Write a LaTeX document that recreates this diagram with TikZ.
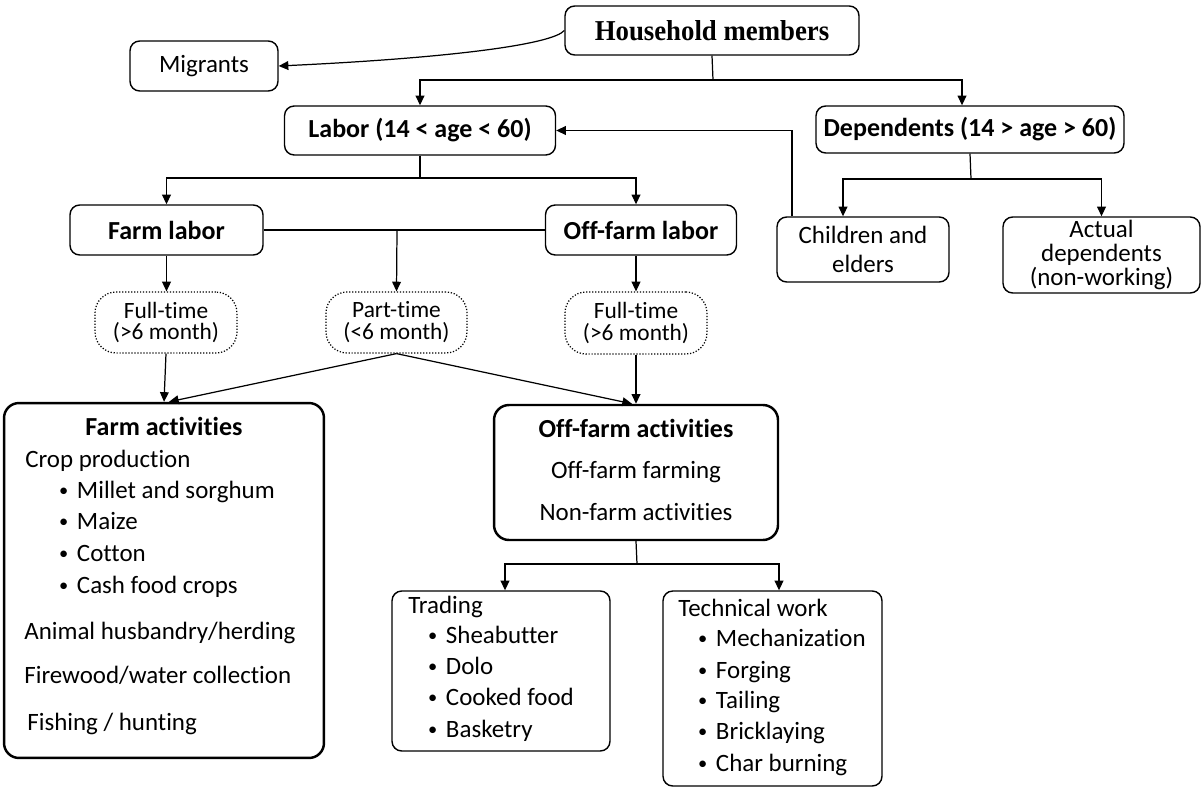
\documentclass[tikz,border=0pt]{standalone}
\usepackage{fontspec}
\usepackage{graphicx}
\setmainfont{Carlito}[Ligatures={NoCommon}]
\newfontfamily\hhserif{Liberation Serif}
\usetikzlibrary{arrows.meta}

\newcommand{\itm}{\raisebox{1pt}{\fontsize{10.5}{10}\selectfont •}\hspace{0.35em}}

\tikzset{
    box/.style={draw, rounded corners=5.5pt, line width=0.8pt, align=center, inner sep=0pt, font=\fontsize{14.2}{17}\selectfont},
    bigbox/.style={draw, rounded corners=8.5pt, line width=1.4pt, inner sep=0pt},
    dotbox/.style={draw, densely dotted, rounded corners=12pt, line width=0.7pt, align=center, inner sep=0pt, font=\fontsize{13.3}{12.5}\selectfont},
    link/.style={line width=0.7pt},
    arr/.style={line width=0.7pt, -{Triangle[length=5.5pt,width=5pt]}},
    txt/.style={anchor=west, inner sep=0pt, text height=0.94em, text depth=0.2em, font=\fontsize{14.2}{17}\selectfont},
    ttl/.style={inner sep=0pt, font=\fontsize{14.8}{17}\selectfont\bfseries},
    bold/.style={font=\fontsize{14.8}{17}\selectfont\bfseries},
}

\begin{document}
\begin{tikzpicture}[x=0.02cm, y=-0.02cm]
                    \useasboundingbox (0,0) rectangle (1202,787);

                    \node[box, minimum width=5.88cm, minimum height=0.98cm, font=\hhserif\bfseries\fontsize{16.4}{18}\selectfont] (hh) at (712,30.5) {\scalebox{0.93}[1]{Household members}};
                    \node[box, minimum width=2.96cm, minimum height=1.0cm]  (mig)    at (204,66)     {Migrants};
                    \node[box, bold, minimum width=5.42cm, minimum height=0.98cm] (labor) at (420,130.5) {Labor (14 < age < 60)};
                    \node[box, bold, minimum width=6.16cm, minimum height=0.94cm] (dep)   at (970,129.5) {Dependents (14 > age > 60)};
                    \node[box, minimum width=3.44cm, minimum height=1.3cm, font=\fontsize{14.2}{16.4}\selectfont]  (child)  at (863,249.5)  {Children and\\elders};
                    \node[box, minimum width=3.94cm, minimum height=1.52cm, font=\fontsize{14.2}{13.6}\selectfont] (actual) at (1101.5,255) {Actual\\dependents\\(non-working)};
                    \node[box, bold, minimum width=3.86cm, minimum height=1.0cm] (farm) at (166.5,230) {Farm labor};
                    \node[box, bold, minimum width=3.82cm, minimum height=1.0cm] (off)  at (641,230)   {Off-farm labor};

                    \node[dotbox, minimum width=2.84cm, minimum height=1.22cm] (ft1) at (166,322.5) {Full-time\\(>6 month)};
                    \node[dotbox, minimum width=2.82cm, minimum height=1.22cm] (pt)  at (396.5,322.5) {Part-time\\(<6 month)};
                    \node[dotbox, minimum width=2.84cm, minimum height=1.24cm] (ft2) at (636,323) {Full-time\\(>6 month)};

                    \node[bigbox, minimum width=6.4cm, minimum height=7.1cm]  (fa)  at (164,580.5) {};
                    \node[bigbox, minimum width=5.68cm, minimum height=2.7cm] (ofa) at (636,472.5) {};
                    \node[box, minimum width=4.36cm, minimum height=3.2cm]    (trd) at (501,671)   {};
                    \node[box, minimum width=4.38cm, minimum height=3.9cm]    (tec) at (772.5,688.5) {};

                    \node[ttl] (fat) at (164,426) {Farm activities};
                    \node[txt] (fa1) at (25,461)   {Crop production};
                    \node[txt] (fa2) at (58.7,492) {\itm Millet and sorghum};
                    \node[txt] (fa3) at (58.7,523) {\itm Maize};
                    \node[txt] (fa4) at (58.7,555) {\itm Cotton};
                    \node[txt] (fa5) at (58.7,587) {\itm Cash food crops};
                    \node[txt] (fa6) at (24,633)   {Animal husbandry/herding};
                    \node[txt] (fa7) at (24,677)   {Firewood/water collection};
                    \node[txt] (fa8) at (27,724)   {Fishing / hunting};

                    \node[ttl] (ofat) at (636,428) {Off-farm activities};
                    \node[txt, anchor=center] (ofa1) at (636,472) {Off-farm farming};
                    \node[txt, anchor=center] (ofa2) at (636,514) {Non-farm activities};

                    \node[txt] (trd0) at (408,607)   {Trading};
                    \node[txt] (trd1) at (427.7,637) {\itm Sheabutter};
                    \node[txt] (trd2) at (427.7,668) {\itm Dolo};
                    \node[txt] (trd3) at (427.7,699) {\itm Cooked food};
                    \node[txt] (trd4) at (427.7,731) {\itm Basketry};

                    \node[txt] (tec0) at (678,610)   {Technical work};
                    \node[txt] (tec1) at (697.7,640) {\itm Mechanization};
                    \node[txt] (tec2) at (697.7,672) {\itm Forging};
                    \node[txt] (tec3) at (697.7,702) {\itm Tailing};
                    \node[txt] (tec4) at (697.7,733) {\itm Bricklaying};
                    \node[txt] (tec5) at (697.7,765) {\itm Char burning};

                    \coordinate (hhj) at (713,80);
                    \coordinate (lbj) at (420,178);
                    \coordinate (dpj) at (971,179);
                    \coordinate (foj) at (397,230);
                    \coordinate (ofj) at (637,564);

                    \draw[arr] (hh.west) .. controls +(-12,14) and (450,58) .. (mig.east);
                    \draw[link] (hh.south) -- (hhj);
                    \draw[arr] (hhj) -| (labor.north);
                    \draw[arr] (hhj) -| ([xshift=-0.16cm]dep.north);
                    \draw[arr] ([xshift=-1.42cm]child.north) |- (labor.east);
                    \draw[link] (dep.south) -- (dpj);
                    \draw[arr] (dpj) -| ([xshift=-0.4cm]child.north);
                    \draw[arr] (dpj) -| (actual.north);

                    \draw[link] (labor.south) -- (lbj);
                    \draw[arr] (lbj) -| (farm.north);
                    \draw[arr] (lbj) -| ([xshift=-0.1cm]off.north);
                    \draw[link] (farm.east) -- (off.west);
                    \draw[arr] (foj) -- (pt.north);
                    \draw[arr] (farm.south) -- (farm.south |- ft1.north);
                    \draw[arr] (ft2.north |- off.south) -- (ft2.north);

                    \draw[arr] (ft1.south) -- (fa.north);
                    \draw[arr] (pt.south) -- ([xshift=0.1cm]fa.north);
                    \draw[arr] (pt.south) -- ([xshift=-0.08cm]ofa.north);
                    \draw[arr] (ft2.south) -- (ofa.north);

                    \draw[link] (ofa.south) -- (ofj);
                    \draw[arr] (ofj) -| ([xshift=0.08cm]trd.north);
                    \draw[arr] (ofj) -| ([xshift=0.13cm]tec.north);
                \end{tikzpicture}
\end{document}
